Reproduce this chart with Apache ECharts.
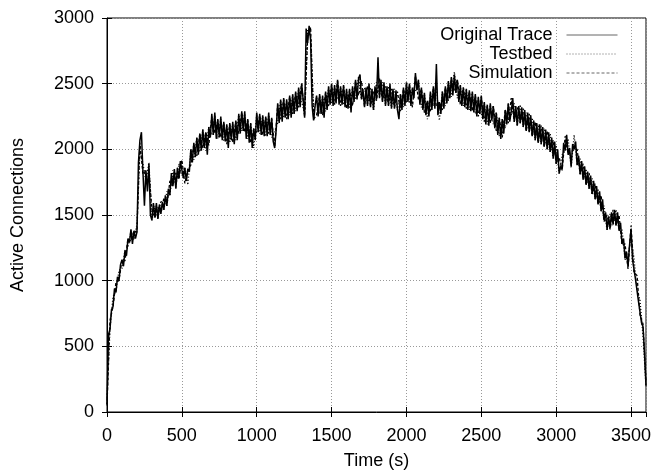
<!DOCTYPE html>
<html>
<head>
<meta charset="utf-8">
<script src="https://cdn.jsdelivr.net/npm/echarts@6/dist/echarts.min.js"></script>
<style>
  html, body { margin: 0; padding: 0; background: #fff; }
  #chart { width: 655px; height: 475px; }
</style>
</head>
<body>
<div id="chart"></div>
<script>
// active connections over time
const xTicks = [0, 500, 1000, 1500, 2000, 2500, 3000, 3500]
const yTicks = [0, 500, 1000, 1500, 2000, 2500, 3000]

// original trace, one value every 10 s (0 .. 3600)
const traceStep = 10
const originalTrace = [
  60, 590, 630, 780, 800, 940, 910, 1030, 1000, 1120,
  1160, 1110, 1230, 1190, 1320, 1290, 1390, 1280, 1380, 1320,
  1370, 1900, 2070, 2130, 1830, 1570, 1840, 1680, 1890, 1500,
  1460, 1590, 1480, 1590, 1470, 1580, 1510, 1600, 1540, 1650,
  1570, 1700, 1650, 1820, 1720, 1850, 1700, 1860, 1780, 1910,
  1920, 1780, 1860, 1760, 1850, 1830, 2000, 1900, 2050, 1940,
  2090, 1960, 2120, 1990, 2150, 2010, 2130, 1960, 2170, 2090,
  2270, 2110, 2280, 2080, 2230, 2090, 2250, 2070, 2210, 2060,
  2190, 2010, 2200, 2070, 2210, 2040, 2220, 2070, 2270, 2120,
  2290, 2140, 2290, 2080, 2230, 2050, 2200, 2010, 2160, 2070,
  2280, 2130, 2270, 2110, 2260, 2100, 2250, 2100, 2280, 2110,
  2240, 2060, 2010, 2150, 2350, 2200, 2380, 2210, 2390, 2240,
  2380, 2230, 2410, 2240, 2420, 2270, 2440, 2290, 2470, 2320,
  2500, 2380, 2240, 2920, 2810, 2940, 2830, 2330, 2220, 2330,
  2410, 2250, 2420, 2270, 2410, 2240, 2440, 2300, 2480, 2340,
  2500, 2330, 2490, 2350, 2530, 2340, 2480, 2340, 2490, 2320,
  2460, 2310, 2460, 2280, 2480, 2360, 2530, 2380, 2540, 2570,
  2380, 2450, 2320, 2470, 2330, 2500, 2320, 2460, 2300, 2480,
  2380, 2700, 2390, 2530, 2360, 2510, 2330, 2480, 2330, 2500,
  2310, 2460, 2310, 2450, 2300, 2230, 2420, 2300, 2470, 2330,
  2510, 2360, 2500, 2330, 2470, 2390, 2580, 2450, 2530, 2340,
  2470, 2300, 2430, 2260, 2370, 2250, 2440, 2300, 2480, 2310,
  2650, 2260, 2360, 2270, 2440, 2310, 2480, 2350, 2520, 2390,
  2550, 2410, 2570, 2430, 2530, 2360, 2490, 2330, 2470, 2320,
  2460, 2300, 2450, 2290, 2440, 2280, 2420, 2250, 2400, 2270,
  2410, 2230, 2360, 2190, 2340, 2180, 2350, 2220, 2330, 2160,
  2280, 2110, 2240, 2080, 2230, 2120, 2300, 2190, 2350, 2210,
  2290, 2390, 2210, 2330, 2180, 2330, 2200, 2320, 2170, 2300,
  2140, 2280, 2130, 2260, 2100, 2220, 2070, 2200, 2050, 2190,
  2040, 2170, 2020, 2150, 2000, 2130, 1980, 2090, 1930, 2060,
  1890, 2000, 1820, 1870, 1850, 2050, 1990, 2110, 1960, 2010,
  1870, 2040, 2000, 2060, 1880, 1950, 1810, 1910, 1770, 1870,
  1730, 1830, 1700, 1800, 1660, 1760, 1620, 1720, 1580, 1680,
  1530, 1620, 1460, 1520, 1390, 1490, 1400, 1520, 1430, 1540,
  1420, 1520, 1380, 1440, 1280, 1320, 1170, 1220, 1110, 1270,
  1390, 1160, 1160, 1010, 1020, 840, 840, 680, 650, 450,
  200
]

// testbed and simulation runs, one value every 20 s (0 .. 3600)
const sampleStep = 20
const testbed = [
  110, 630, 880, 920, 1080, 1090, 1230, 1250, 1380, 1310,
  1430, 1990, 1890, 1760, 1900, 1460, 1570, 1470, 1610, 1540,
  1680, 1650, 1840, 1710, 1890, 1800, 1860, 1730, 2000, 1920,
  2090, 1980, 2150, 1990, 2170, 2110, 2260, 2080, 2230, 2060,
  2180, 2050, 2190, 2070, 2260, 2140, 2270, 2080, 2190, 2010,
  2270, 2120, 2250, 2100, 2260, 2090, 2140, 2200, 2370, 2240,
  2370, 2260, 2410, 2290, 2460, 2360, 2270, 2910, 2860, 2290,
  2400, 2270, 2400, 2290, 2470, 2350, 2480, 2380, 2470, 2340,
  2450, 2310, 2470, 2380, 2550, 2380, 2470, 2340, 2470, 2300,
  2510, 2400, 2510, 2340, 2480, 2320, 2460, 2300, 2420, 2320,
  2500, 2350, 2460, 2440, 2520, 2320, 2420, 2230, 2430, 2330,
  2470, 2220, 2440, 2330, 2510, 2400, 2590, 2390, 2480, 2330,
  2450, 2300, 2430, 2270, 2390, 2260, 2350, 2190, 2340, 2190,
  2280, 2100, 2230, 2160, 2340, 2260, 2350, 2180, 2340, 2170,
  2280, 2130, 2240, 2070, 2190, 2040, 2160, 2000, 2120, 1930,
  2030, 1810, 1960, 1990, 2080, 1860, 2110, 1880, 1930, 1770,
  1850, 1700, 1780, 1620, 1700, 1530, 1570, 1380, 1510, 1420,
  1540, 1380, 1390, 1160, 1200, 1330, 1170, 930, 850, 580,
  190
]
const simulation = [
  50, 700, 800, 990, 1000, 1160, 1150, 1320, 1300, 1380,
  1370, 2050, 1810, 1840, 1840, 1540, 1480, 1560, 1510, 1630,
  1570, 1760, 1720, 1820, 1770, 1920, 1740, 1850, 1880, 2040,
  1950, 2120, 2010, 2130, 2030, 2250, 2120, 2220, 2090, 2200,
  2040, 2190, 2050, 2210, 2120, 2280, 2130, 2220, 2050, 2150,
  2130, 2260, 2110, 2240, 2120, 2230, 2020, 2340, 2230, 2380,
  2230, 2400, 2270, 2430, 2320, 2500, 2250, 2850, 2930, 2230,
  2260, 2410, 2260, 2430, 2330, 2490, 2340, 2520, 2330, 2480,
  2310, 2450, 2330, 2520, 2410, 2520, 2330, 2480, 2330, 2440,
  2370, 2540, 2370, 2480, 2340, 2460, 2320, 2440, 2290, 2460,
  2360, 2490, 2320, 2560, 2380, 2460, 2280, 2370, 2290, 2470,
  2330, 2360, 2300, 2470, 2370, 2540, 2450, 2530, 2340, 2470,
  2310, 2440, 2290, 2410, 2250, 2400, 2210, 2330, 2200, 2330,
  2140, 2240, 2090, 2300, 2200, 2390, 2210, 2320, 2200, 2310,
  2140, 2270, 2100, 2210, 2050, 2180, 2020, 2140, 1980, 2070,
  1890, 1940, 1840, 2100, 1960, 1980, 2000, 2000, 1810, 1890,
  1730, 1820, 1660, 1740, 1580, 1650, 1450, 1500, 1390, 1540,
  1420, 1500, 1270, 1280, 1090, 1420, 1060, 1040, 740, 670,
  230
]

const pairs = (vals, step) => vals.map((v, i) => [i * step, v])

const font = "'Liberation Sans', Arial, Helvetica, sans-serif"
const ink = '#000'

const chart = echarts.init(document.getElementById('chart'), null, { renderer: 'canvas' })

const hiddenAxis = {
  axisLine: { show: false },
  axisLabel: { show: false },
  splitLine: { show: false },
  axisTick: { inside: true, length: 5, lineStyle: { color: ink } }
}

function legendRow(name, top) {
  return {
    data: [name],
    right: 32,
    top: top,
    align: 'right',
    itemWidth: 51,
    itemHeight: 12,
    selectedMode: false,
    textStyle: { fontFamily: font, fontSize: 18, color: ink, padding: [0, 9, 0, 0] },
    itemStyle: { opacity: 0 },
    lineStyle: { color: '#666', width: 1 }
  }
}

chart.setOption({
  animation: false,
  backgroundColor: '#fff',
  textStyle: { fontFamily: font },
  grid: {
    left: 107, right: 9, top: 18, bottom: 61,
    show: true, borderColor: ink, borderWidth: 1, backgroundColor: 'transparent'
  },
  legend: [
    legendRow('Original Trace', 21),
    legendRow('Testbed', 40),
    legendRow('Simulation', 59)
  ],
  xAxis: [{
    type: 'value', min: 0, max: 3600, interval: 500,
    name: 'Time (s)', nameLocation: 'middle', nameGap: 40,
    nameTextStyle: { fontFamily: font, fontSize: 18, color: ink },
    axisLine: { show: true, onZero: false, lineStyle: { color: ink, width: 1 } },
    axisTick: { inside: true, length: 5, lineStyle: { color: ink } },
    axisLabel: {
      fontFamily: font, fontSize: 18, color: ink, margin: 15, showMaxLabel: false,
      formatter: v => (xTicks.includes(v) ? String(v) : '')
    },
    splitLine: { show: true, lineStyle: { color: '#999', type: [1, 2], width: 1 } }
  }, {
    type: 'value', min: 0, max: 3600, interval: 500, position: 'top', ...hiddenAxis
  }],
  yAxis: [{
    type: 'value', min: 0, max: 3000, interval: 500,
    name: 'Active Connections', nameLocation: 'middle', nameGap: 80,
    nameTextStyle: { fontFamily: font, fontSize: 18, color: ink },
    axisLine: { show: true, onZero: false, lineStyle: { color: ink, width: 1 } },
    axisTick: { inside: true, length: 5, lineStyle: { color: ink } },
    axisLabel: {
      fontFamily: font, fontSize: 18, color: ink, margin: 13,
      formatter: v => (yTicks.includes(v) ? String(v) : '')
    },
    splitLine: { show: true, lineStyle: { color: '#999', type: [1, 2], width: 1 } }
  }, {
    type: 'value', min: 0, max: 3000, interval: 500, position: 'right', ...hiddenAxis
  }],
  series: [{
    name: 'Original Trace',
    type: 'line',
    data: pairs(originalTrace, traceStep),
    symbol: 'none',
    lineStyle: { color: ink, width: 1.5, type: 'solid' },
    itemStyle: { color: ink }
  }, {
    name: 'Testbed',
    type: 'line',
    data: pairs(testbed, sampleStep),
    symbol: 'none',
    lineStyle: { color: ink, width: 1.3, type: [1, 2] },
    itemStyle: { color: ink }
  }, {
    name: 'Simulation',
    type: 'line',
    data: pairs(simulation, sampleStep),
    symbol: 'none',
    lineStyle: { color: ink, width: 1.3, type: [3, 2] },
    itemStyle: { color: ink }
  }]
})
</script>
</body>
</html>
